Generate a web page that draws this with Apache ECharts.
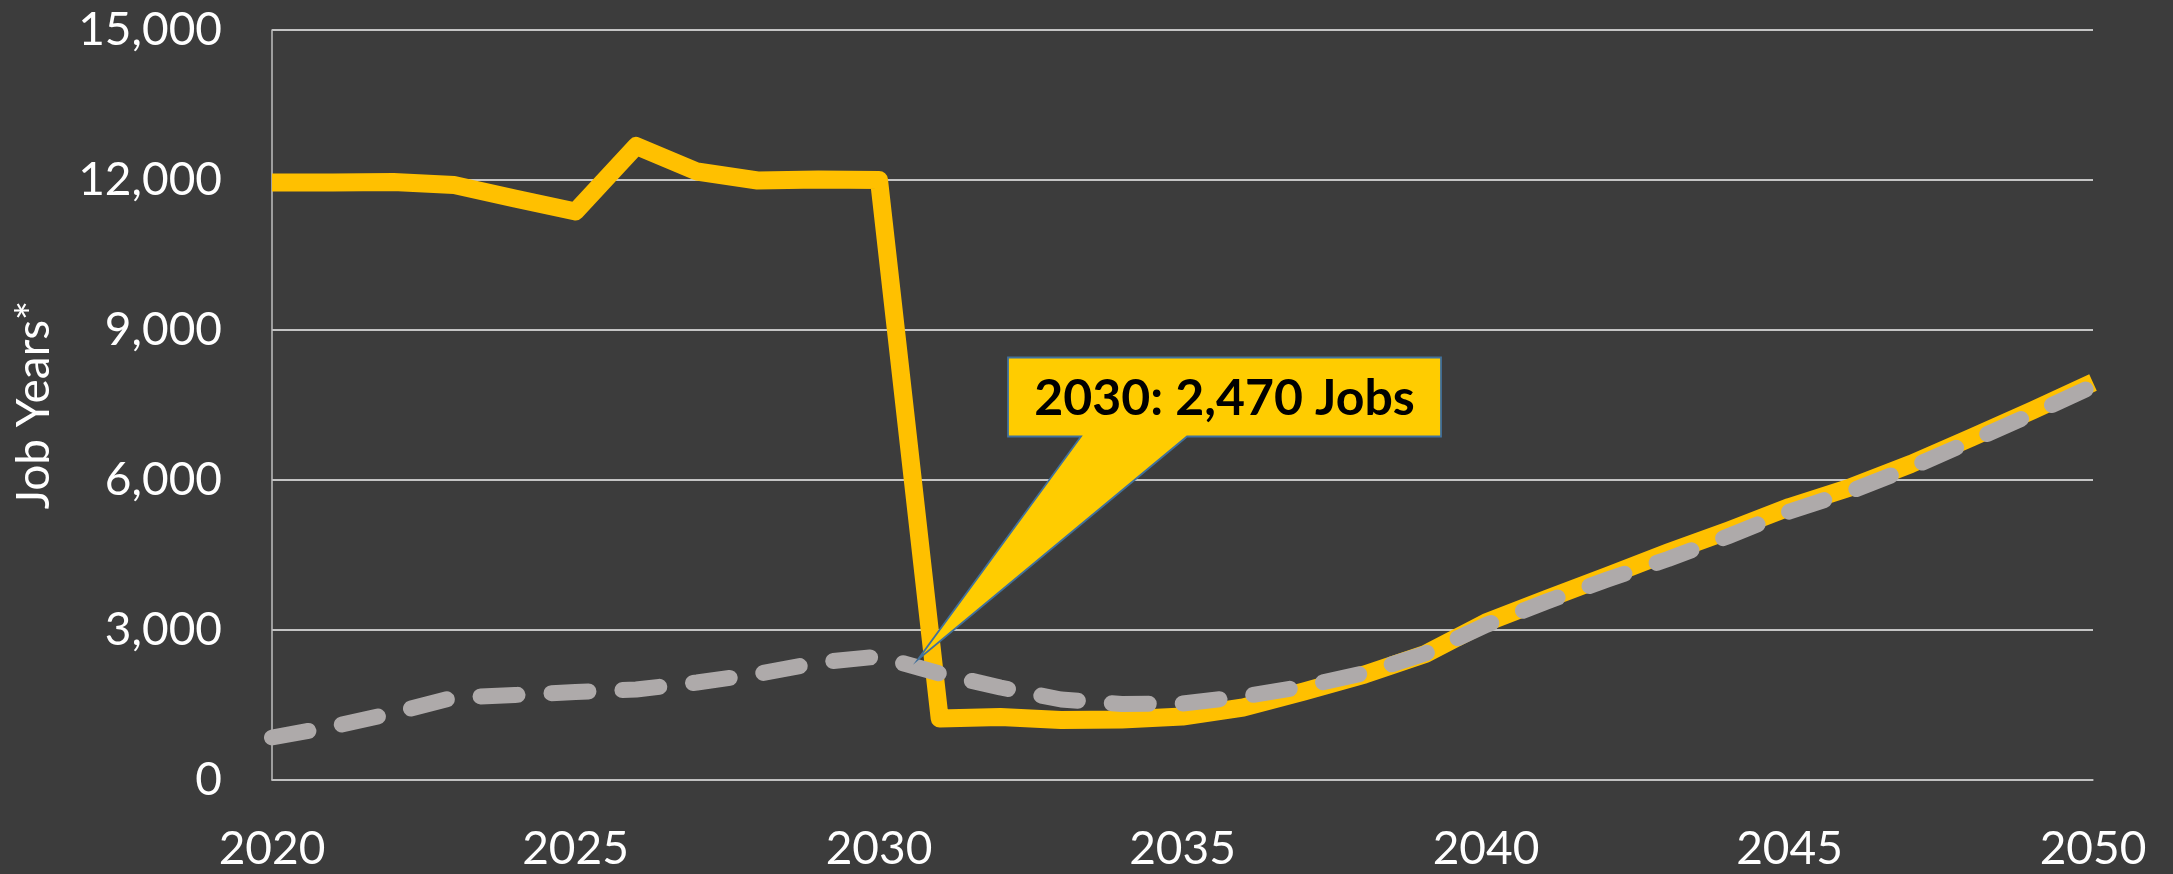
<!DOCTYPE html>
<html>
<head>
<meta charset="utf-8">
<script src="https://cdn.jsdelivr.net/npm/echarts@6/dist/echarts.min.js"></script>
<style>
  html, body { margin: 0; padding: 0; background: #3C3C3C; }
  #chart { width: 2173px; height: 874px; }
</style>
</head>
<body>
<div id="chart"></div>
<script>
// Years on the horizontal axis
const years = [2020, 2021, 2022, 2023, 2024, 2025, 2026, 2027, 2028, 2029, 2030,
               2031, 2032, 2033, 2034, 2035, 2036, 2037, 2038, 2039, 2040,
               2041, 2042, 2043, 2044, 2045, 2046, 2047, 2048, 2049, 2050];

// Solid gold line: job years per year
const scenarioJobs = [11950, 11950, 11960, 11900, 11630, 11370, 12680, 12170, 11990, 12010, 12000,
                      1230, 1260, 1200, 1210, 1270, 1450, 1770, 2110, 2520, 3150,
                      3620, 4080, 4550, 4990, 5460, 5850, 6320, 6850, 7390, 7950];

// Dashed grey line: job years per year
const referenceJobs = [850, 1070, 1340, 1650, 1700, 1760, 1810, 1950, 2120, 2350, 2470,
                       2130, 1850, 1610, 1520, 1530, 1670, 1870, 2140, 2530, 3100,
                       3570, 4010, 4420, 4880, 5370, 5770, 6250, 6780, 7320, 7880];

// Axis ticks
const xTicks = [2020, 2025, 2030, 2035, 2040, 2045, 2050];
const yTicks = [0, 3000, 6000, 9000, 12000, 15000];

// Callout point
const calloutYear = 2030;
const calloutValue = referenceJobs[years.indexOf(calloutYear)];

const FONT = 'Lato, "Open Sans", sans-serif';

const chart = echarts.init(document.getElementById('chart'), null, { renderer: 'canvas' });

const pairs = (vals) => years.map((y, i) => [y, vals[i]]);

chart.setOption({
  backgroundColor: '#3C3C3C',
  animation: false,
  grid: { left: 272, right: 80, top: 30, bottom: 94 },
  xAxis: {
    type: 'value',
    min: xTicks[0],
    max: xTicks[xTicks.length - 1],
    interval: xTicks[1] - xTicks[0],
    axisLine: { show: true, lineStyle: { color: '#BFBFBF', width: 1.5 } },
    axisTick: { show: false },
    splitLine: { show: false },
    axisLabel: {
      color: '#FFFFFF', fontFamily: FONT, fontSize: 46, lineHeight: 46, margin: 46,
      formatter: (v) => String(v)
    }
  },
  yAxis: {
    type: 'value',
    min: yTicks[0],
    max: yTicks[yTicks.length - 1],
    interval: yTicks[1] - yTicks[0],
    name: 'Job Years*',
    nameLocation: 'middle',
    nameGap: 215,
    nameTextStyle: { color: '#FFFFFF', fontFamily: FONT, fontSize: 46, lineHeight: 46 },
    axisLine: { show: true, lineStyle: { color: '#BFBFBF', width: 1.5 } },
    axisTick: { show: false },
    splitLine: { show: true, lineStyle: { color: '#F2F2F2', width: 1.5 } },
    axisLabel: {
      color: '#FFFFFF', fontFamily: FONT, fontSize: 46, margin: 50,
      formatter: (v) => v.toLocaleString('en-US')
    }
  },
  series: [
    {
      type: 'line',
      data: pairs(scenarioJobs),
      showSymbol: false,
      clip: true,
      lineStyle: { color: '#FFC000', width: 18, join: 'round', cap: 'butt' },
      z: 2
    },
    {
      type: 'line',
      data: pairs(referenceJobs),
      showSymbol: false,
      clip: true,
      lineStyle: { color: '#AEAAAA', width: 16, type: [37, 34], cap: 'round', join: 'round' },
      z: 3
    }
  ]
});

// Speech-bubble callout anchored to the 2030 reference value
const a = chart.convertToPixel({ xAxisIndex: 0, yAxisIndex: 0 }, [calloutYear, calloutValue]);
const bx0 = a[0] + 129, bx1 = a[0] + 562, by0 = a[1] - 299, by1 = a[1] - 220;
const bubble = [
  [bx0, by0], [bx1, by0], [bx1, by1],
  [a[0] + 308, by1], [a[0] + 39, a[1] + 3], [a[0] + 202, by1],
  [bx0, by1]
];

chart.setOption({
  graphic: [
    {
      type: 'polygon',
      shape: { points: bubble },
      style: { fill: '#FFCC00', stroke: '#41719C', lineWidth: 1.8, lineJoin: 'miter' },
      z: 100
    },
    {
      type: 'text',
      x: (bx0 + bx1) / 2,
      y: (by0 + by1) / 2 + 2,
      style: {
        text: calloutYear + ': ' + calloutValue.toLocaleString('en-US') + ' Jobs',
        font: 'bold 50px ' + FONT,
        fill: '#000000',
        align: 'center',
        verticalAlign: 'middle'
      },
      z: 101
    }
  ]
});
</script>
</body>
</html>
